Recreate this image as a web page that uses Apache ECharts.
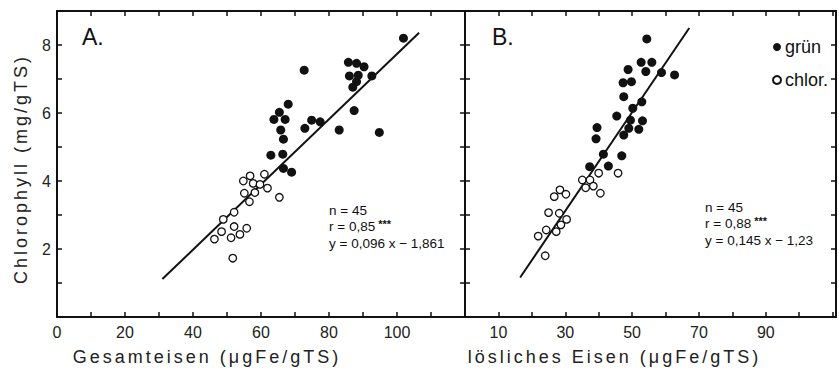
<!DOCTYPE html>
<html>
<head>
<meta charset="utf-8">
<script src="https://cdn.jsdelivr.net/npm/echarts@6/dist/echarts.min.js"></script>
<style>
html,body{margin:0;padding:0;background:#fff;}
#c{width:839px;height:374px;}
</style>
</head>
<body>
<div id="c"></div>
<script>
// ---- Data: Panel A (Gesamteisen) ----
const gruenA_x = [101.9, 85.7, 88.1, 90.3, 72.7, 86.0, 88.6, 92.6, 88.1, 87.0, 87.4, 68.0, 65.4, 63.8, 67.1, 74.9, 77.4, 72.9, 83.0, 94.8, 65.8, 66.6, 62.9, 66.4, 66.6, 69.0];
const gruenA_y = [8.20, 7.49, 7.46, 7.36, 7.26, 7.09, 7.11, 7.09, 6.92, 6.76, 6.07, 6.26, 6.02, 5.81, 5.81, 5.79, 5.74, 5.55, 5.50, 5.43, 5.50, 5.23, 4.76, 4.79, 4.37, 4.26];
const chlorA_x = [56.8, 61.0, 54.8, 57.7, 59.7, 61.9, 55.1, 58.2, 56.6, 65.4, 52.1, 48.9, 52.1, 55.8, 48.4, 53.8, 46.3, 51.2, 51.7];
const chlorA_y = [4.15, 4.20, 4.00, 3.93, 3.90, 3.79, 3.64, 3.66, 3.39, 3.52, 3.08, 2.87, 2.66, 2.61, 2.51, 2.43, 2.29, 2.33, 1.73];
const fitA = [0.096, -1.861];      // slope, intercept
const fitA_range = [31, 106.5];    // x extent of drawn line

// ---- Data: Panel B (lösliches Eisen) ----
const gruenB_x = [54.4, 52.7, 55.9, 48.8, 54.1, 58.8, 62.7, 47.3, 49.8, 47.5, 52.9, 50.2, 45.4, 49.5, 53.1, 39.5, 49.0, 52.0, 47.5, 39.2, 41.4, 46.9, 37.3, 42.9];
const gruenB_y = [8.18, 7.49, 7.49, 7.28, 7.22, 7.19, 7.12, 6.89, 6.92, 6.48, 6.33, 6.14, 5.91, 5.79, 5.77, 5.57, 5.55, 5.52, 5.35, 5.24, 4.79, 4.74, 4.42, 4.44];
const chlorB_x = [40.0, 45.8, 35.1, 37.4, 36.1, 38.4, 40.5, 28.4, 30.2, 26.7, 25.0, 28.2, 30.4, 28.7, 24.3, 27.3, 21.9, 24.0];
const chlorB_y = [4.23, 4.23, 4.03, 4.03, 3.80, 3.85, 3.64, 3.74, 3.61, 3.54, 3.07, 3.05, 2.87, 2.71, 2.56, 2.51, 2.38, 1.80];
const fitB = [0.145, -1.23];
const fitB_range = [16.5, 67.1];

// ---- Tick labels ----
const xLabelsA = [0, 20, 40, 60, 80, 100];
const xLabelsB = [10, 30, 50, 70, 90];
const yLabels = [2, 4, 6, 8];

// ---- Texts ----
const yName = 'Chlorophyll (mg/gTS)';
const xNameA = 'Gesamteisen (μgFe/gTS)';
const xNameB = 'lösliches Eisen (μgFe/gTS)';
const statsA = ['n = 45', 'r = 0,85', 'y = 0,096 x − 1,861'];
const statsB = ['n = 45', 'r = 0,88', 'y = 0,145 x − 1,23'];

const FONT = "'Liberation Sans', Arial, Helvetica, sans-serif";
const INK = '#111';

const zip = (xs, ys) => xs.map((x, i) => [x, ys[i]]);
const fitLine = (f, r) => r.map(x => [x, f[0] * x + f[1]]);

const lineStyle = { color: INK, width: 2 };
const tickStyle = { show: true, inside: true, length: 5, lineStyle: { color: INK, width: 1.5 } };

function xAxis(grid, pos, max, labels, name, padRight) {
  return {
    type: 'value', gridIndex: grid, position: pos, min: 0, max: max, interval: 10,
    axisLine: { show: true, onZero: false, lineStyle: lineStyle },
    axisTick: tickStyle,
    splitLine: { show: false },
    axisLabel: labels ? {
      show: true, margin: 7, fontSize: 16, color: '#222', fontFamily: FONT,
      formatter: v => labels.includes(v) ? String(v) : ''
    } : { show: false },
    name: name || '', nameLocation: 'middle', nameGap: 31,
    nameTextStyle: { fontSize: 18, color: '#222', fontFamily: FONT, padding: [0, padRight || 0, 0, 0] }
  };
}
function yAxis(grid, pos, labels, name) {
  return {
    type: 'value', gridIndex: grid, position: pos, min: 0, max: 9, interval: 1,
    axisLine: { show: true, onZero: false, lineStyle: lineStyle },
    axisTick: tickStyle,
    splitLine: { show: false },
    axisLabel: labels ? {
      show: true, margin: 6, fontSize: 16, color: '#222', fontFamily: FONT,
      formatter: v => labels.includes(v) ? String(v) : ''
    } : { show: false },
    name: name || '', nameLocation: 'middle', nameGap: 27,
    nameTextStyle: { fontSize: 18, color: '#222', fontFamily: FONT, padding: [0, 10, 0, 0] }
  };
}

const filled = { color: INK, opacity: 1 };
const hollow = { color: '#fff', borderColor: INK, borderWidth: 1.3, opacity: 1 };

function statText(x, y0, lines) {
  const els = [];
  els.push({ type: 'text', style: { x: x, y: y0, text: lines[0], font: '13.5px ' + FONT, fill: INK, verticalAlign: 'middle' } });
  els.push({ type: 'text', style: { x: x, y: y0 + 16.5, text: '{a|' + lines[1] + '}{s|***}', fill: INK, verticalAlign: 'middle',
    rich: { a: { fontSize: 13.5, fontFamily: FONT, color: INK }, s: { fontSize: 11, fontWeight: 'bold', fontFamily: FONT, color: INK, verticalAlign: 'top', padding: [0, 0, 6, 3] } } } });
  els.push({ type: 'text', style: { x: x, y: y0 + 33, text: lines[2], font: '13.5px ' + FONT, fill: INK, verticalAlign: 'middle' } });
  return els;
}

const chart = echarts.init(document.getElementById('c'), null, { renderer: 'svg' });
chart.setOption({
  animation: false,
  backgroundColor: '#fff',
  grid: [
    { left: 57, top: 11, width: 408, height: 306 },
    { left: 465, top: 11, width: 377.4, height: 306 }
  ],
  xAxis: [
    xAxis(0, 'bottom', 120, xLabelsA, xNameA, 108),
    xAxis(0, 'top', 120, null),
    xAxis(1, 'bottom', 111, xLabelsB, xNameB, 72),
    xAxis(1, 'top', 111, null)
  ],
  yAxis: [
    yAxis(0, 'left', yLabels, yName),
    yAxis(0, 'right', null),
    yAxis(1, 'left', null),
    yAxis(1, 'right', null)
  ],
  legend: {
    data: ['grün', 'chlor.'], orient: 'vertical', left: 767, top: 33,
    itemWidth: 8, itemHeight: 8, itemGap: 15, icon: 'circle', selectedMode: false,
    textStyle: { fontSize: 18, fontFamily: FONT, color: INK, lineHeight: 18, padding: [0, 0, 0, -1] }
  },
  graphic: [
    { type: 'text', style: { x: 82, y: 37, text: 'A.', font: '23px ' + FONT, fill: INK, verticalAlign: 'middle' } },
    { type: 'text', style: { x: 492, y: 37, text: 'B.', font: '23px ' + FONT, fill: INK, verticalAlign: 'middle' } },
    ...statText(329, 210, statsA),
    ...statText(705, 207, statsB)
  ],
  series: [
    { name: 'grün', type: 'scatter', xAxisIndex: 0, yAxisIndex: 0, symbolSize: 9, itemStyle: filled, data: zip(gruenA_x, gruenA_y), z: 3 },
    { name: 'chlor.', type: 'scatter', xAxisIndex: 0, yAxisIndex: 0, symbolSize: 7.5, itemStyle: hollow, data: zip(chlorA_x, chlorA_y), z: 3 },
    { type: 'line', xAxisIndex: 0, yAxisIndex: 0, symbol: 'none', lineStyle: { color: INK, width: 2 }, data: fitLine(fitA, fitA_range), z: 2 },
    { name: 'grün', type: 'scatter', xAxisIndex: 2, yAxisIndex: 2, symbolSize: 9, itemStyle: filled, data: zip(gruenB_x, gruenB_y), z: 3 },
    { name: 'chlor.', type: 'scatter', xAxisIndex: 2, yAxisIndex: 2, symbolSize: 7.5, itemStyle: hollow, data: zip(chlorB_x, chlorB_y), z: 3 },
    { type: 'line', xAxisIndex: 2, yAxisIndex: 2, symbol: 'none', lineStyle: { color: INK, width: 2 }, data: fitLine(fitB, fitB_range), z: 2 }
  ]
});

// widen the letter spacing of the axis titles, as in the printed figure
function spaceOut() {
  const names = [yName, xNameA, xNameB];
  document.querySelectorAll('#c text').forEach(t => {
    if (names.includes(t.textContent)) t.setAttribute('letter-spacing', '3');
  });
}
chart.on('finished', spaceOut);
spaceOut();
setTimeout(spaceOut, 30);
</script>
</body>
</html>
